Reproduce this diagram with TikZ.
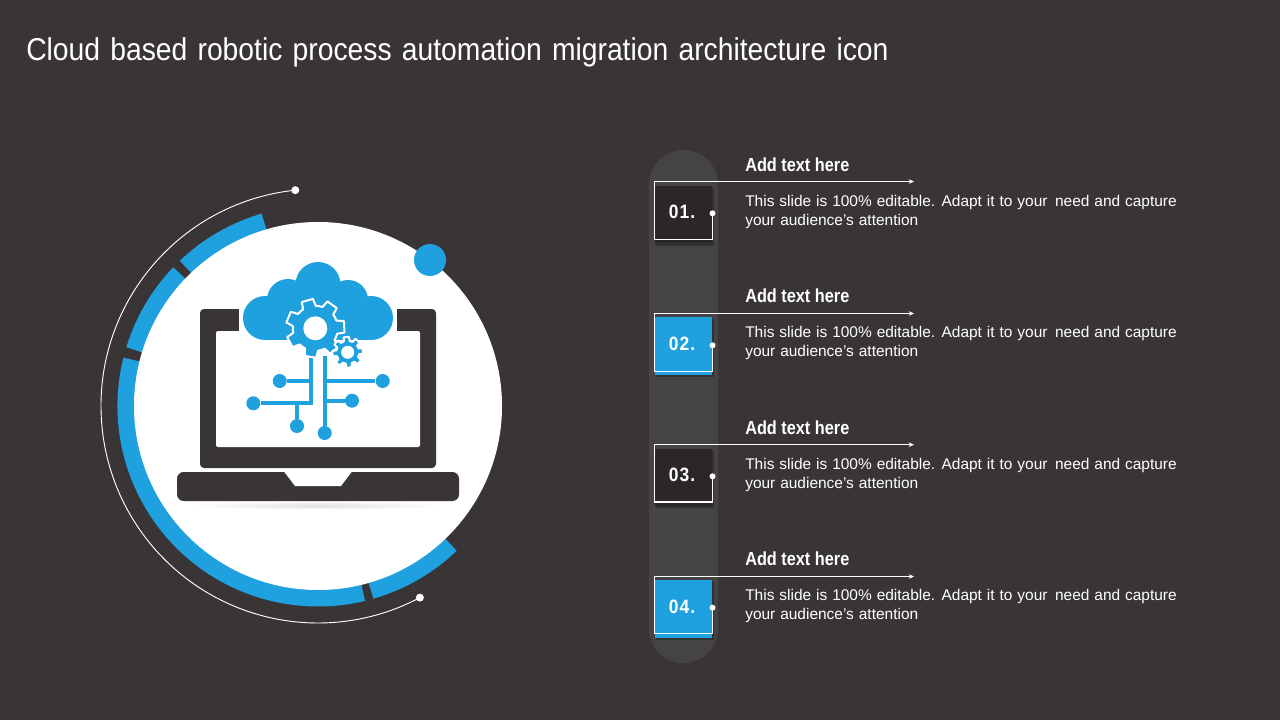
\documentclass[tikz,border=0pt]{standalone}
\usepackage{fontspec}
\usetikzlibrary{arrows.meta}
\setmainfont{Liberation Sans}
\newfontfamily\narrowfont[FakeStretch=0.895,WordSpace=1.3]{Liberation Sans}
\newfontfamily\narrowbold[FakeStretch=0.86]{Liberation Sans Bold}
\newfontfamily\numfont[FakeStretch=0.90,LetterSpace=6]{Liberation Sans Bold}
\newfontfamily\bodyfont[WordSpace=1.15]{Liberation Sans}
\definecolor{bgc}{HTML}{393536}
\definecolor{pillc}{HTML}{454344}
\definecolor{bluec}{HTML}{1FA0DF}
\definecolor{darkc}{HTML}{2B2727}
\tikzset{
 px/.style={x=0.75pt,y=-0.75pt},
 whitedot/.style={circle,fill=white,draw=none,inner sep=0pt,minimum size=#1*0.75pt},
 ringarc/.style={draw=bluec,line width=12.75pt},
 thinline/.style={draw=white,line width=0.7pt},
 circuit/.style={draw=bluec,line width=3pt},
 termdot/.style={circle,fill=bluec,inner sep=0pt,minimum size=10.5pt},
 headtext/.style={anchor=base west,inner sep=0pt,text=white,font=\narrowbold\fontsize{14.2pt}{16pt}\selectfont},
 bodytext/.style={anchor=north west,inner sep=0pt,text=white,align=left,font=\bodyfont\fontsize{11.6pt}{14.25pt}\selectfont},
 numtext/.style={inner sep=0pt,text=white,font=\numfont\fontsize{14.5pt}{16pt}\selectfont},
 gearshape/.style={fill=bluec,draw=white,line width=1.5pt,line join=round},
}
\newcommand{\gearat}[7]{% cx cy rootR tipR holeR teeth rotation
 \pgfmathsetmacro{\gstep}{360/#6}
 \pgfmathsetmacro{\ga}{\gstep*0.33}
 \pgfmathsetmacro{\gb}{\gstep*0.22}
 \path[gearshape,shift={(#1,#2)},rotate=#7] (-\ga:#3)
  foreach \k in {1,...,#6}{
   -- ({(\k-1)*\gstep-\gb}:#4) -- ({(\k-1)*\gstep+\gb}:#4) -- ({(\k-1)*\gstep+\ga}:#3)
   arc[start angle={(\k-1)*\gstep+\ga},end angle={\k*\gstep-\ga},radius=#3]
  } -- cycle;
 \fill[white,shift={(#1,#2)}] (0,0) circle[radius=#5];
}
\begin{document}
\begin{tikzpicture}[px]
\useasboundingbox (0,0) rectangle (1280,720);
\fill[bgc] (0,0) rectangle (1280,720);
\node[anchor=base west,inner sep=0pt,text=white,font=\narrowfont\fontsize{23.7pt}{26pt}\selectfont] (title) at (26,61) {Cloud based robotic process automation migration architecture icon};
% left graphic
\coordinate (c) at (318,406);
\begin{scope}[shift={(c)}]
 \node[whitedot=8] (arcA) at (-96:217) {};
 \node[whitedot=8] (arcB) at (-298:217) {};
 \draw[thinline] (arcA.center) arc[start angle=-96,end angle=-298,radius=217];
 \draw[ringarc] (-106.3:192) arc[start angle=-106.3,end angle=-133.6,radius=192];
 \draw[ringarc] (-136.2:192) arc[start angle=-136.2,end angle=-163,radius=192];
 \draw[ringarc] (-166:192) arc[start angle=-166,end angle=-283.6,radius=192];
 \draw[ringarc] (-286:192) arc[start angle=-286,end angle=-313.8,radius=192];
 \fill[white] (0,0) circle[radius=184];
\end{scope}
\node[circle,fill=bluec,inner sep=0pt,minimum size=24pt] (bluedot) at (430,260) {};
% laptop
\shade[inner color=black!12,outer color=white] (318,505.5) ellipse[x radius=130,y radius=4];
\fill[bgc,rounded corners=3pt] (200,309) rectangle (436,468);
\fill[white,rounded corners=1.5pt] (216,331) rectangle (420,447);
\fill[white] (239,305) rectangle (397,332);
\fill[bgc,rounded corners=5pt] (177,472) rectangle (459,501);
\fill[white] (284,471.5) -- (295,486) -- (341,486) -- (352,471.5) -- cycle;
% cloud
\fill[bluec] (265,318) circle[radius=22];
\fill[bluec] (288,300) circle[radius=21];
\fill[bluec] (318,284.5) circle[radius=22.5];
\fill[bluec] (348,300) circle[radius=20];
\fill[bluec] (371,318) circle[radius=22];
\fill[bluec] (265,300) rectangle (371,340);
% circuit
\node[termdot] (t1) at (279.7,381) {};
\node[termdot] (t2) at (253.3,403.3) {};
\node[termdot] (t3) at (297,426) {};
\node[termdot] (t4) at (324.7,433) {};
\node[termdot] (t5) at (382.7,381) {};
\node[termdot] (t6) at (352,400.7) {};
\coordinate (ta) at (311,352);
\coordinate (tb) at (324.7,356);
\draw[circuit] (ta) -- (311,403.3) -- (t2);
\draw[circuit] (t1) -- (311,381);
\draw[circuit] (t3) -- (297,403.3);
\draw[circuit] (tb) -- (t4);
\draw[circuit] (324.7,381) -- (t5);
\draw[circuit] (324.7,400.7) -- (t6);
% gears
\gearat{315.3}{328.3}{22.5}{29.5}{12}{7}{3}
\gearat{347.7}{352.3}{11.5}{15.5}{6.5}{8}{5}
% right column
\fill[pillc,rounded corners=25.8pt] (649,150) rectangle (718,663);
\foreach \id/\ytop/\dotY/\ybot/\fillc/\ftop/\fbot/\num/\head in {
 1/181.5/213.3/239.5/darkc/186/243.5/01./165,
 2/313.5/345.3/371.7/bluec/317/375/02./296,
 3/444.7/476.3/502/darkc/449/506/03./428,
 4/576.5/607.7/633.3/bluec/580/638/04./559}{
 \pgfmathsetmacro{\hb}{\head+6.5}
 \pgfmathsetmacro{\tb}{\head+30}
 \pgfmathsetmacro{\ny}{\dotY-1}
 \fill[black,opacity=.25] (656,\ftop+2) rectangle (713.5,\fbot+2);
 \fill[\fillc] (655,\ftop) rectangle (712,\fbot);
 \node[numtext] (n\id) at (682,\ny) {\num};
 \node[whitedot=6] (d\id) at (712.5,\dotY) {};
 \coordinate (e\id) at (914,\ytop);
 \draw[thinline,line width=.85pt,-{Stealth[length=4pt,width=3.5pt]}] (d\id.center) -- (712.5,\ybot) -- (654.5,\ybot) -- (654.5,\ytop) -- (e\id);
 \node[headtext] (h\id) at (745,\hb) {Add text here};
 \node[bodytext] (b\id) at (745,\tb) {This slide is 100\% editable. Adapt it to your\, need and capture\\your audience’s attention};
}
\end{tikzpicture}
\end{document}
